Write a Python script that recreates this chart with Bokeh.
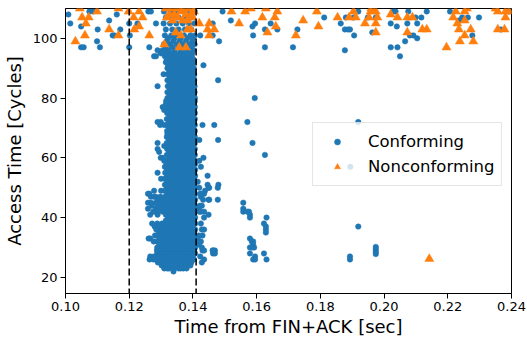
from bokeh.plotting import figure
from bokeh.models import Span, Legend, LegendItem, FixedTicker, PrintfTickFormatter, Range1d
from bokeh.embed import file_html
from bokeh.resources import INLINE

# ---------------- data (time from FIN+ACK in ms, access time in cycles) ----------------
# dense cluster of conforming accesses (one line per access-time level)
core_ms = [
    130.9, 133.0, 135.0, 137.0, 139.0, 140.6,
    131.5, 133.5, 135.5, 137.5, 139.5,
    130.8, 132.8, 134.8, 136.8, 138.8, 140.5,
    131.5, 133.5, 135.5, 137.5, 139.5,
    131.2, 133.2, 135.2, 137.2, 139.2, 140.6,
    132.2, 134.2, 136.2, 138.2, 140.0,
    131.8, 133.8, 135.8, 137.8, 139.8,
    130.9, 132.9, 134.9, 136.9, 138.9, 140.5,
    131.5, 133.5, 135.5, 137.5, 139.5,
    130.5, 132.2, 134.2, 136.2, 138.2, 140.2,
    129.9, 131.4, 132.9, 134.4, 135.9, 137.4, 138.9, 139.8,
    131.2, 132.6, 134.1, 135.7, 137.1, 138.6, 139.6,
    131.8, 133.3, 134.9, 136.3, 137.8, 139.3, 140.1,
    131.5, 133.0, 134.5, 136.0, 137.5, 139.0, 140.3,
    132.2, 133.7, 135.2, 136.7, 138.2, 139.7,
    132.0, 133.4, 134.9, 136.4, 137.9, 139.4, 140.3,
    132.6, 134.1, 135.6, 137.1, 138.6, 140.0,
    132.1, 133.6, 135.1, 136.6, 138.1, 139.6, 140.4,
    132.8, 134.3, 135.8, 137.3, 138.8, 140.2,
    132.0, 133.5, 135.0, 136.5, 138.0, 139.5, 140.4,
    132.7, 134.2, 135.7, 137.2, 138.7, 140.2,
    132.1, 133.6, 135.1, 136.6, 138.1, 139.6, 140.5,
    132.8, 134.3, 135.8, 137.3, 138.8, 140.3,
    132.0, 133.5, 135.0, 136.5, 138.0, 139.5, 140.5,
    132.7, 134.2, 135.7, 137.2, 138.7, 140.2,
    132.0, 133.5, 135.0, 136.5, 138.0, 139.5, 140.6,
    131.8, 133.2, 134.7, 136.2, 137.7, 139.2, 140.6,
    132.5, 134.0, 135.5, 137.0, 138.5, 140.0,
    131.8, 133.3, 134.8, 136.3, 137.8, 139.3, 140.6,
    132.5, 134.0, 135.5, 137.0, 138.5, 140.0,
    131.9, 133.4, 134.9, 136.4, 137.9, 139.4, 140.6,
    132.6, 134.1, 135.6, 137.1, 138.6, 140.1,
    131.8, 133.3, 134.8, 136.3, 137.8, 139.3, 140.6,
    132.5, 134.0, 135.5, 137.0, 138.5, 140.0,
    131.8, 133.2, 134.8, 136.2, 137.8, 139.2, 140.6,
    132.5, 134.0, 135.4, 137.0, 138.4, 140.0,
    131.9, 133.3, 134.8, 136.3, 137.7, 139.3, 140.6,
    132.5, 134.1, 135.5, 137.0, 138.5, 140.1,
    131.8, 133.3, 134.9, 136.3, 137.8, 139.3, 140.6,
    132.5, 134.0, 135.5, 137.1, 138.5, 140.0,
    131.8, 133.2, 134.8, 136.3, 137.8, 139.2, 140.6,
    132.5, 134.0, 135.5, 137.0, 138.6, 140.0,
    131.9, 133.3, 134.8, 136.4, 137.8, 139.3, 140.6,
    132.5, 134.0, 135.6, 137.0, 138.5, 140.0,
    131.8, 133.3, 134.8, 136.3, 137.9, 139.3, 140.6,
    132.5, 134.0, 135.5, 137.0, 138.5, 140.1,
    131.2, 132.7, 134.2, 135.7, 137.2, 138.7, 140.2,
    131.9, 133.4, 134.9, 136.4, 137.9, 139.4, 140.7,
    131.2, 132.7, 134.2, 135.7, 137.2, 138.7, 140.2,
    131.9, 133.4, 134.9, 136.4, 137.9, 139.4, 140.7,
    131.3, 132.7, 134.3, 135.7, 137.2, 138.8, 140.2,
    131.9, 133.4, 134.8, 136.4, 137.9, 139.4, 140.7,
    131.2, 132.8, 134.2, 135.7, 137.3, 138.7, 140.2,
    131.9, 133.3, 134.9, 136.4, 137.8, 139.4, 140.7,
    131.2, 132.7, 134.2, 135.8, 137.2, 138.7, 140.2,
    131.8, 133.4, 134.9, 136.3, 137.9, 139.4, 140.7,
    131.2, 132.7, 134.3, 135.7, 137.2, 138.7, 140.2,
    131.9, 133.4, 134.9, 136.4, 137.9, 139.3, 140.7,
    128.3, 129.8, 131.3, 132.8, 134.3, 135.8, 137.3, 138.8, 140.3,
    129.0, 130.5, 132.0, 133.5, 135.0, 136.5, 138.0, 139.5, 140.7,
    128.3, 129.8, 131.3, 132.8, 134.3, 135.8, 137.3, 138.8, 140.3,
    129.0, 130.5, 132.0, 133.5, 135.0, 136.5, 138.0, 139.5, 140.7,
    128.4, 129.8, 131.3, 132.8, 134.3, 135.8, 137.3, 138.8, 140.3,
    129.0, 130.5, 132.0, 133.5, 135.0, 136.5, 138.0, 139.5, 140.7,
    131.5, 132.8, 134.3, 135.8, 137.3, 138.8, 140.2,
    132.2, 133.5, 135.0, 136.5, 138.0, 139.5, 140.7,
    131.5, 132.8, 134.3, 135.8, 137.3, 138.8, 140.2,
    128.8, 130.3, 131.8, 133.3, 134.8, 136.3, 137.8, 139.3, 140.7,
    129.5, 131.0, 132.5, 134.0, 135.5, 137.0, 138.5, 140.0,
    128.8, 130.3, 131.8, 133.3, 134.8, 136.3, 137.8, 139.3, 140.7,
    129.5, 131.0, 132.5, 134.0, 135.5, 137.0, 138.5, 140.0,
    128.8, 130.3, 131.8, 133.3, 134.8, 136.3, 137.8, 139.3, 140.7,
    129.5, 131.0, 132.5, 134.0, 135.5, 137.0, 138.5, 140.0,
    128.8, 130.3, 131.8, 133.3, 134.8, 136.3, 137.8, 139.3, 140.7,
    129.5, 131.0, 132.5, 134.0, 135.5, 137.0, 138.5, 140.0,
    128.8, 130.3, 131.8, 133.3, 134.8, 136.3, 137.8, 139.3, 140.7,
    129.5, 131.0, 132.5, 134.0, 135.5, 137.0, 138.5, 140.0,
    128.8, 130.3, 131.8, 133.3, 134.8, 136.3, 137.8, 139.3, 140.7,
    129.5, 131.0, 132.5, 134.0, 135.5, 137.0, 138.5, 140.0,
    128.3, 129.8, 131.3, 132.8, 134.3, 135.8, 137.3, 138.8, 140.3,
    129.0, 130.5, 132.0, 133.5, 135.0, 136.5, 138.0, 139.5,
    130.2, 131.7, 133.2, 134.7, 136.2, 137.7, 139.2,
    131.0, 132.5, 134.0, 135.5, 137.0, 138.0,
]
core_cyc = [
    109, 109, 109, 109, 109, 109,
    107, 107, 107, 107, 107,
    105, 105, 105, 105, 105, 105,
    103, 103, 103, 103, 103,
    101, 101, 101, 101, 101, 101,
    100, 100, 100, 100, 100,
    99, 99, 99, 99, 99,
    98, 98, 98, 98, 98, 98,
    97, 97, 97, 97, 97,
    96, 96, 96, 96, 96, 96,
    95, 95, 95, 95, 95, 95, 95, 95,
    94, 94, 94, 94, 94, 94, 94,
    93, 93, 93, 93, 93, 93, 93,
    92, 92, 92, 92, 92, 92, 92,
    91, 91, 91, 91, 91, 91,
    90, 90, 90, 90, 90, 90, 90,
    89, 89, 89, 89, 89, 89,
    88, 88, 88, 88, 88, 88, 88,
    87, 87, 87, 87, 87, 87,
    86, 86, 86, 86, 86, 86, 86,
    85, 85, 85, 85, 85, 85,
    84, 84, 84, 84, 84, 84, 84,
    83, 83, 83, 83, 83, 83,
    82, 82, 82, 82, 82, 82, 82,
    81, 81, 81, 81, 81, 81,
    80, 80, 80, 80, 80, 80, 80,
    79, 79, 79, 79, 79, 79, 79,
    78, 78, 78, 78, 78, 78,
    77, 77, 77, 77, 77, 77, 77,
    76, 76, 76, 76, 76, 76,
    75, 75, 75, 75, 75, 75, 75,
    74, 74, 74, 74, 74, 74,
    73, 73, 73, 73, 73, 73, 73,
    72, 72, 72, 72, 72, 72,
    71, 71, 71, 71, 71, 71, 71,
    70, 70, 70, 70, 70, 70,
    69, 69, 69, 69, 69, 69, 69,
    68, 68, 68, 68, 68, 68,
    67, 67, 67, 67, 67, 67, 67,
    66, 66, 66, 66, 66, 66,
    65, 65, 65, 65, 65, 65, 65,
    64, 64, 64, 64, 64, 64,
    63, 63, 63, 63, 63, 63, 63,
    62, 62, 62, 62, 62, 62,
    61, 61, 61, 61, 61, 61, 61,
    60, 60, 60, 60, 60, 60,
    59, 59, 59, 59, 59, 59, 59,
    58, 58, 58, 58, 58, 58, 58,
    57, 57, 57, 57, 57, 57, 57,
    56, 56, 56, 56, 56, 56, 56,
    55, 55, 55, 55, 55, 55, 55,
    54, 54, 54, 54, 54, 54, 54,
    53, 53, 53, 53, 53, 53, 53,
    52, 52, 52, 52, 52, 52, 52,
    51, 51, 51, 51, 51, 51, 51,
    50, 50, 50, 50, 50, 50, 50,
    49, 49, 49, 49, 49, 49, 49,
    48, 48, 48, 48, 48, 48, 48,
    47, 47, 47, 47, 47, 47, 47, 47, 47,
    46, 46, 46, 46, 46, 46, 46, 46, 46,
    45, 45, 45, 45, 45, 45, 45, 45, 45,
    44, 44, 44, 44, 44, 44, 44, 44, 44,
    43, 43, 43, 43, 43, 43, 43, 43, 43,
    42, 42, 42, 42, 42, 42, 42, 42, 42,
    41, 41, 41, 41, 41, 41, 41,
    40, 40, 40, 40, 40, 40, 40,
    39, 39, 39, 39, 39, 39, 39,
    38, 38, 38, 38, 38, 38, 38, 38, 38,
    37, 37, 37, 37, 37, 37, 37, 37,
    36, 36, 36, 36, 36, 36, 36, 36, 36,
    35, 35, 35, 35, 35, 35, 35, 35,
    34, 34, 34, 34, 34, 34, 34, 34, 34,
    33, 33, 33, 33, 33, 33, 33, 33,
    32, 32, 32, 32, 32, 32, 32, 32, 32,
    31, 31, 31, 31, 31, 31, 31, 31,
    30, 30, 30, 30, 30, 30, 30, 30, 30,
    29, 29, 29, 29, 29, 29, 29, 29,
    28, 28, 28, 28, 28, 28, 28, 28, 28,
    27, 27, 27, 27, 27, 27, 27, 27,
    26, 26, 26, 26, 26, 26, 26, 26, 26,
    25, 25, 25, 25, 25, 25, 25, 25,
    24, 24, 24, 24, 24, 24, 24,
    23, 23, 23, 23, 23, 23,
]

# isolated conforming accesses
spread_ms = [
    100.9, 101.5, 107.5, 108.7, 110.1, 109.9, 104.9, 105.7, 110.8, 113.7,
    114.8, 115.3, 116.1, 117.2, 120.0, 126.0, 104.9, 120.2, 120.0, 122.6,
    126.3, 126.8, 128.4, 127.8, 128.9, 130.8, 128.9, 130.5, 129.7, 131.0,
    131.6, 128.9, 129.9, 131.0, 128.9, 131.0, 132.0, 128.9, 129.4, 130.5,
    131.0, 128.9, 130.0, 126.3, 126.8, 127.8, 130.0, 127.8, 126.8, 128.4,
    128.9, 126.6, 128.1, 127.7, 128.7, 126.6, 127.8, 128.9, 129.9, 133.9,
    132.0, 136.2, 125.9, 125.9, 125.9, 126.6, 127.1, 127.5, 127.2, 128.0,
    128.5, 126.1, 126.4, 127.6, 128.4, 130.5, 131.5, 129.9,
    141.5, 144.6, 144.9, 148.0, 147.8, 142.0, 143.8, 143.5, 142.8, 142.5,
    143.2, 144.9, 147.8, 142.2, 142.8, 141.8, 142.5, 142.0, 144.9, 143.5,
    155.8, 155.8, 155.8, 157.1, 157.6, 157.9, 157.9, 163.1, 162.3, 162.9,
    162.9, 142.8, 143.5, 141.8, 141.5, 141.8, 142.8, 143.0, 143.5, 146.3,
    146.9, 146.3, 146.9, 143.5, 157.9, 158.5, 158.9, 158.9, 159.2, 157.9,
    158.5, 157.9, 159.5, 158.9, 159.5, 162.3, 163.1, 189.3, 189.3, 191.9,
    197.4, 197.4, 197.4, 197.4, 143.3, 147.9, 142.3, 143.0, 146.7, 147.9,
    142.0, 142.0, 143.3, 142.5, 144.6, 145.1, 142.3, 157.1, 159.4, 158.7,
    162.6, 191.9, 189.4, 145.1, 143.5, 142.5, 143.0, 142.5, 146.2, 142.3,
    142.8, 162.9,
    149.3, 151.9, 146.2, 146.2, 148.2, 158.7, 159.5, 158.9, 162.6, 164.4,
    166.5, 162.6, 171.4, 172.8, 181.2, 186.4, 187.7, 188.7, 189.3, 188.0,
    190.4, 190.6, 191.9, 187.7, 196.3, 194.9, 197.4, 202.1, 204.0, 202.9,
    203.6, 202.1, 204.2, 205.0, 206.6, 207.3, 207.6, 208.1, 209.2, 210.4,
    209.9, 211.7, 210.4, 213.4, 220.7, 223.5, 224.5, 226.3, 227.7, 229.8,
    236.6, 239.2,
]
spread_cyc = [
    108, 105, 109, 109, 103, 99, 97, 97, 97, 106,
    101, 101, 108, 103, 105, 109, 104, 101, 97, 105,
    97, 109, 105, 94, 96, 88, 84, 77, 71, 71,
    79, 65, 60, 64, 72, 76, 68, 63, 62, 60,
    59, 55, 53, 48, 47, 49, 49, 47, 45, 42,
    41, 33, 34, 32, 29, 27, 27, 26, 25, 22,
    23, 23, 48, 45, 43, 41, 44, 42, 38, 37,
    36, 33, 26, 26, 94, 95, 78, 72,
    52, 51, 50, 51, 50, 50, 49, 48, 48, 47,
    46, 46, 46, 44, 44, 43, 42, 42, 41, 40,
    45, 43, 42, 42, 42, 41, 40, 40, 38, 36,
    35, 36, 36, 34, 33, 31, 30, 29, 29, 29,
    29, 28, 28, 26, 33, 32, 32, 31, 30, 30,
    30, 28, 27, 26, 26, 28, 26, 27, 26, 37,
    30.2, 29.4, 28.6, 27.8, 91, 86, 101, 71, 71, 66,
    66, 59, 60, 57, 54, 50, 48, 72, 80, 65,
    61, 72, 57, 46, 42, 38, 34, 32, 29, 27,
    25, 37,
    109, 106, 105, 101, 99, 104, 105, 101, 103, 105,
    103, 97, 97, 103, 107, 105, 103, 103, 103, 107,
    107, 101, 109, 96, 102, 107, 107, 105, 104, 109,
    109, 97, 97, 94, 99, 105, 109, 101, 101, 100,
    107, 107, 105, 109, 109, 106, 107, 107, 101, 107,
    103, 109,
]

# nonconforming accesses
nonconf_ms = [
    105.2, 107.3, 106.4, 109.9, 103.1, 106.1, 113.7, 116.6, 119.8, 121.4,
    123.1, 121.6, 123.1, 126.3, 124.2, 131.0, 104.5, 116.6,
    132.6, 134.1, 136.2, 137.8, 139.4, 133.6, 135.2, 136.8, 138.3, 139.9,
    134.6, 136.2, 138.3, 139.4, 135.7, 137.8, 142.0, 145.1, 144.6, 146.7,
    145.1, 131.5, 133.5, 135.5, 137.5, 139.5, 131.8, 140.3,
    152.1, 154.5, 156.4, 161.8, 165.7, 166.5, 166.0, 163.4, 172.3, 174.6,
    178.9, 179.4, 185.4, 189.0, 191.1, 190.4, 194.0, 195.8, 197.4, 195.3,
    197.9, 197.4, 197.4, 202.1, 204.2, 207.3, 208.9, 207.3, 212.0, 213.4,
    219.6, 221.7, 222.5, 225.3, 223.8, 228.0, 223.0, 225.3, 227.2, 223.5,
    225.3, 235.7, 238.1, 239.2, 238.1, 235.7, 237.8, 158.2, 162.9, 196.0,
    226.0, 235.0, 214.2,
]
nonconf_cyc = [
    107, 107, 105, 109, 99, 101, 103, 101, 109, 107,
    109, 103, 104, 101, 107, 98, 110, 110,
    108, 108, 109, 108, 108, 106, 107, 106, 106, 107,
    102, 101, 103, 103, 97, 97, 105, 105, 103, 103,
    101, 110, 110, 110, 110, 110, 107, 109,
    109, 105, 109, 107, 107, 109, 104, 102, 101, 106,
    109, 104, 107, 107, 107, 109, 105, 109, 109, 107,
    107, 105, 102, 108, 107, 107, 107, 102, 103, 103,
    97, 107, 109, 109, 99, 99, 105, 106, 103, 103,
    101, 109, 109, 109, 107, 103, 103, 110, 110, 110,
    110, 110, 26.2,
]

thresholds_sec = [0.120, 0.141]
x_ticks = [0.10, 0.12, 0.14, 0.16, 0.18, 0.20, 0.22, 0.24]
y_ticks = [20, 40, 60, 80, 100]
x_lo, x_hi = 0.10, 0.24
y_lo, y_hi = 14.6, 110

assert len(core_ms) == len(core_cyc)
assert len(spread_ms) == len(spread_cyc)
assert len(nonconf_ms) == len(nonconf_cyc)

conf_x = [v / 1000.0 for v in core_ms + spread_ms]
conf_y = core_cyc + spread_cyc
nonconf_x = [v / 1000.0 for v in nonconf_ms]

FONT = "DejaVu Sans"

p = figure(width=527, height=339, x_range=Range1d(x_lo, x_hi), y_range=Range1d(y_lo, y_hi),
           output_backend="svg", toolbar_location=None,
           min_border_left=65, min_border_right=16, min_border_top=8, min_border_bottom=45)
p.grid.visible = False
p.outline_line_color = "black"
p.outline_line_width = 1
p.background_fill_color = "white"
p.border_fill_color = "white"

for ax in (p.xaxis[0], p.yaxis[0]):
    ax.major_label_text_font = FONT
    ax.major_label_text_font_size = "13px"
    ax.major_label_text_color = "black"
    ax.axis_label_text_font = FONT
    ax.axis_label_text_font_size = "18px"
    ax.axis_label_text_font_style = "normal"
    ax.axis_label_text_color = "black"
    ax.minor_tick_line_color = None
    ax.major_tick_out = 5
    ax.major_tick_in = 0
    ax.major_tick_line_color = "black"
    ax.axis_line_color = "black"
    ax.major_label_standoff = 3
    ax.axis_label_standoff = 3

p.xaxis.major_label_standoff = 3
p.xaxis.axis_label_standoff = 2
p.yaxis.axis_label_standoff = 5
p.xaxis.ticker = FixedTicker(ticks=x_ticks)
p.xaxis.formatter = PrintfTickFormatter(format="%.2f")
p.yaxis.ticker = FixedTicker(ticks=y_ticks)
p.xaxis.axis_label = "Time from FIN+ACK [sec]"
p.yaxis.axis_label = "Access Time [Cycles]"

conf = p.scatter(conf_x, conf_y, marker="circle", size=5.5,
                 fill_color="#1f77b4", line_color="#1f77b4", line_width=0.5)
nonconf = p.scatter(nonconf_x, nonconf_cyc, marker="triangle", size=9,
                    fill_color="#ff7f0e", line_color="#ff7f0e", line_width=0.5)

for t in thresholds_sec:
    p.add_layout(Span(location=t, dimension="height", line_color="black",
                      line_dash="7 3", line_width=1.5))

legend = Legend(items=[LegendItem(label="Conforming", renderers=[conf]),
                       LegendItem(label="Nonconforming", renderers=[nonconf])],
                location=(247, 107))
legend.label_text_font = FONT
legend.label_text_font_size = "16.5px"
legend.label_text_color = "black"
legend.border_line_color = "#cccccc"
legend.border_line_width = 1
legend.background_fill_color = "white"
legend.background_fill_alpha = 0.8
legend.padding = 6
legend.margin = 0
legend.spacing = 0
legend.glyph_width = 36
legend.glyph_height = 15
legend.label_height = 25
legend.label_standoff = 13
p.add_layout(legend)

open("out.html", "w").write(file_html(p, INLINE))
